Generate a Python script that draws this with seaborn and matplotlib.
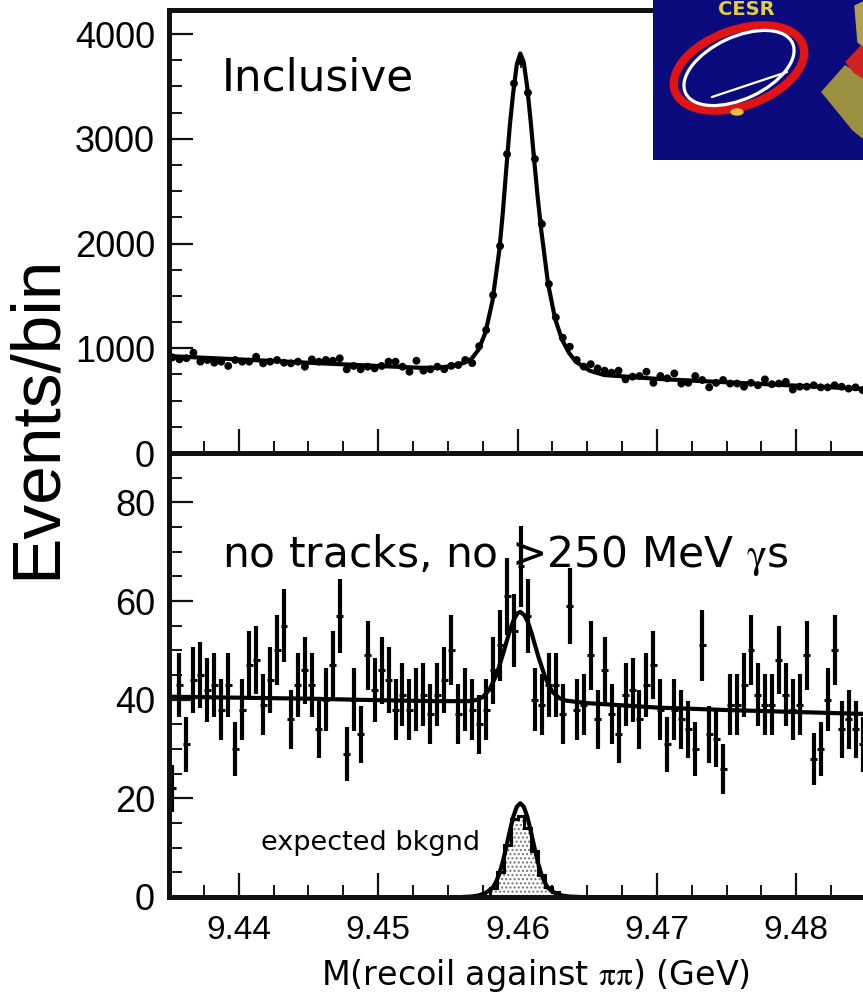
import numpy as np
import matplotlib
matplotlib.use('Agg')
import matplotlib.pyplot as plt
from matplotlib.patches import Ellipse, Rectangle, Polygon
from matplotlib.ticker import MultipleLocator, FormatStrFormatter
import seaborn as sns

# binning of both histograms (GeV)
bin_lo, bin_width, n_bins = 9.435, 0.0005, 100

# top panel: inclusive recoil mass, events per bin
incl_counts = [913, 894, 905, 958, 872, 888, 862, 872, 831, 888,
               872, 872, 919, 856, 872, 888, 862, 856, 872, 824,
               894, 872, 888, 881, 904, 799, 831, 799, 824, 808,
               831, 872, 872, 824, 776, 881, 786, 799, 824, 800,
               832, 840, 888, 858, 1020, 1174, 1508, 1976, 2854, 3529,
               3740, 3440, 2807, 2186, 1613, 1295, 1101, 1015, 888, 825,
               848, 808, 786, 767, 786, 703, 729, 735, 776, 670,
               735, 713, 760, 663, 670, 735, 697, 627, 670, 697,
               663, 663, 633, 670, 647, 703, 657, 663, 679, 606,
               633, 633, 647, 627, 627, 647, 633, 615, 627, 601]

# fitted curve, top panel
incl_fit_x = [9.4350, 9.4400, 9.4450, 9.4500, 9.4530, 9.4542, 9.4552, 9.4562,
              9.4567, 9.4572, 9.4577, 9.4582, 9.4587, 9.45895, 9.4592, 9.45945,
              9.4597, 9.45995, 9.4602, 9.46045, 9.4607, 9.46095, 9.4612, 9.46145,
              9.4617, 9.4622, 9.4627, 9.4632, 9.4637, 9.4642, 9.4652, 9.4662,
              9.4700, 9.4750, 9.4800, 9.4850]
incl_fit_y = [925, 894, 862, 831, 814, 814, 828, 862,
              900, 985, 1150, 1450, 1940, 2300, 2720, 3130,
              3450, 3710, 3815, 3730, 3490, 3160, 2790, 2440,
              2130, 1610, 1280, 1080, 955, 870, 785, 745,
              708, 675, 643, 611]

# bottom panel: no tracks, no photons above 250 MeV
sel_counts = [22, 43, 31, 44, 45, 42, 43, 38, 43, 30,
              38, 47, 48, 39, 44, 50, 55, 36, 43, 46,
              43, 34, 40, 47, 57, 29, 40, 33, 49, 42,
              46, 44, 38, 41, 38, 40, 41, 37, 41, 44,
              50, 37, 40, 38, 35, 38, 46, 51, 61, 54,
              67, 57, 40, 39, 43, 43, 37, 59, 38, 39,
              49, 36, 46, 37, 33, 41, 42, 36, 43, 47,
              38, 31, 38, 36, 34, 30, 51, 33, 32, 26,
              39, 39, 43, 50, 41, 39, 39, 48, 41, 38,
              39, 49, 28, 30, 40, 50, 34, 36, 34, 31]

sel_fit_x = [9.4350, 9.4400, 9.4450, 9.4500, 9.4540, 9.4565, 9.4570, 9.4575,
             9.4580, 9.4585, 9.4590, 9.45925, 9.4595, 9.45975, 9.4600, 9.4602,
             9.4605, 9.46075, 9.4610, 9.46125, 9.4615, 9.4620, 9.4625, 9.4630,
             9.4635, 9.4650, 9.4700, 9.4750, 9.4800, 9.4850]
sel_fit_y = [40.6, 40.4, 40.2, 39.9, 39.7, 39.7, 39.9, 40.5,
             42.1, 45.1, 49.6, 52.1, 54.5, 56.3, 57.5, 57.8,
             57.1, 55.7, 53.6, 51.1, 48.7, 44.4, 41.6, 40.3,
             39.8, 39.3, 38.4, 37.9, 37.5, 37.1]

# expected background histogram and its curve
bkg_edges = [9.4580, 9.4585, 9.4590, 9.4595, 9.4600, 9.4605,
             9.4610, 9.4615, 9.4620, 9.4625, 9.4630]
bkg_counts = [1.8, 5.0, 10.5, 15.8, 16.5, 14.0, 9.3, 4.5, 2.0, 1.0]
bkg_curve_x = [9.4560, 9.4567, 9.4572, 9.4577, 9.4582, 9.45845, 9.4587, 9.45895,
               9.4592, 9.45945, 9.4597, 9.45995, 9.4602, 9.46045, 9.4607, 9.46095,
               9.4612, 9.46145, 9.4617, 9.46195, 9.4622, 9.4627, 9.4632, 9.4637,
               9.4645]
bkg_curve_y = [0.0, 0.1, 0.3, 0.8, 1.8, 3.0, 4.7, 7.2,
               10.2, 13.4, 16.3, 18.3, 19.0, 18.3, 16.3, 13.4,
               10.2, 7.2, 4.7, 3.0, 1.8, 0.8, 0.3, 0.1,
               0.0]

centers = bin_lo + bin_width * (np.arange(n_bins) + 0.5)
incl_counts = np.array(incl_counts, dtype=float)
sel_counts = np.array(sel_counts, dtype=float)

sns.set_style('ticks')
plt.rcParams['font.family'] = ['DejaVu Sans']
plt.rcParams['mathtext.fontset'] = 'stix'
plt.rcParams['hatch.linewidth'] = 1.0
for key in ('text.color', 'axes.labelcolor', 'xtick.color', 'ytick.color'):
    plt.rcParams[key] = 'black'

W, H = 863, 997
fig = plt.figure(figsize=(W / 100, H / 100), dpi=100)
ax1 = fig.add_axes([169 / W, 1 - 453 / H, 697 / W, 443 / H])
ax2 = fig.add_axes([169 / W, 1 - 897 / H, 697 / W, 444 / H])

# top panel
ax1.errorbar(centers, incl_counts, yerr=np.sqrt(incl_counts), fmt='none',
             ecolor='k', elinewidth=1.2)
sns.scatterplot(x=centers, y=incl_counts, s=32, color='k', edgecolor='none', ax=ax1)
sns.lineplot(x=incl_fit_x, y=incl_fit_y, color='k', lw=3, ax=ax1)
ax1.set_ylim(0, 4230)
ax1.yaxis.set_major_locator(MultipleLocator(1000))
ax1.yaxis.set_minor_locator(MultipleLocator(250))
ax1.text(0.076, 0.819, 'Inclusive', transform=ax1.transAxes, fontsize=31.5,
         va='baseline')

# bottom panel
ax2.stairs(bkg_counts, bkg_edges, fill=True, facecolor='white', edgecolor='0.45',
           hatch='....', lw=0)
ax2.stairs(bkg_counts, bkg_edges, color='k', lw=2.2)
sns.lineplot(x=bkg_curve_x, y=bkg_curve_y, color='k', lw=3, ax=ax2)
ax2.errorbar(centers, sel_counts, yerr=np.sqrt(sel_counts), fmt='none',
             ecolor='k', elinewidth=3.0)
ax2.errorbar(centers, sel_counts, xerr=bin_width / 2, fmt='none',
             ecolor='k', elinewidth=2.2)
sns.lineplot(x=sel_fit_x, y=sel_fit_y, color='k', lw=3, ax=ax2)
ax2.set_ylim(0, 90)
ax2.yaxis.set_major_locator(MultipleLocator(20))
ax2.yaxis.set_minor_locator(MultipleLocator(5))
ax2.text(0.076, 0.743, r'no tracks, no >250 MeV $\mathrm{\gamma}$s',
         transform=ax2.transAxes, fontsize=30.5, va='baseline')
ax2.text(0.132, 0.106, 'expected bkgnd', transform=ax2.transAxes, fontsize=19.5,
         va='baseline')

for ax in (ax1, ax2):
    ax.set_xlim(9.435, 9.485)
    ax.xaxis.set_major_locator(MultipleLocator(0.01))
    ax.xaxis.set_minor_locator(MultipleLocator(0.0025))
    ax.xaxis.set_major_formatter(FormatStrFormatter('%.2f'))
    ax.set_xlabel('')
    ax.set_ylabel('')
    for side in ('left', 'bottom', 'top', 'right'):
        ax.spines[side].set_linewidth(3.6)
        ax.spines[side].set_color('#111111')
    ax.tick_params(which='major', direction='in', length=17, width=1.6,
                   pad=10, top=False, right=False, colors='#111111',
                   labelcolor='black', labelfontfamily='Liberation Sans')
    ax.tick_params(which='minor', direction='in', length=9, width=1.4,
                   top=False, right=False, colors='#111111')
    ax.tick_params(axis='y', labelsize=26)
    ax.tick_params(axis='x', labelsize=24, pad=13)
ax1.tick_params(axis='x', labelbottom=False)

fig.text(536 / W, 1 - 975 / H, r'M(recoil against $\mathrm{\pi\pi}$) (GeV)',
         fontsize=24, ha='center', va='center')
fig.text(37 / W, 1 - 417 / H, 'Events/bin', rotation=90, fontsize=50,
         family='Liberation Sans', ha='center', va='center')

# CESR logo in the upper right corner
logo = fig.add_axes([653 / W, 1 - 160 / H, 210 / W, 160 / H], zorder=10)
logo.set_xlim(0, 210)
logo.set_ylim(160, 0)
logo.axis('off')
logo.add_patch(Rectangle((0, 0), 210, 160, color='#0b0b7d'))
logo.add_patch(Ellipse((86, 68), 136, 76, angle=-20, fill=False,
                       ec='#e01414', lw=6))
logo.add_patch(Ellipse((86, 68), 118, 62, angle=-25, fill=False,
                       ec='white', lw=2.3))
logo.plot([59, 134], [97, 72], color='white', lw=1.6)
logo.add_patch(Ellipse((84, 112), 12, 6, color='#e8c040'))
logo.text(93, 15, 'CESR', color='#e0d040', fontsize=14, fontweight='bold',
          ha='center', va='baseline')
logo.add_patch(Polygon([(169, 92), (192, 66), (210, 76), (210, 138), (200, 130)],
                       closed=True, color='#9a9040'))
logo.add_patch(Polygon([(193, 62), (210, 44), (210, 78), (201, 72)],
                       closed=True, color='#cc2222'))
logo.add_patch(Polygon([(202, 6), (210, 2), (210, 46), (205, 42)],
                       closed=True, color='#b0a050'))

fig.savefig('out.png', dpi=100)
